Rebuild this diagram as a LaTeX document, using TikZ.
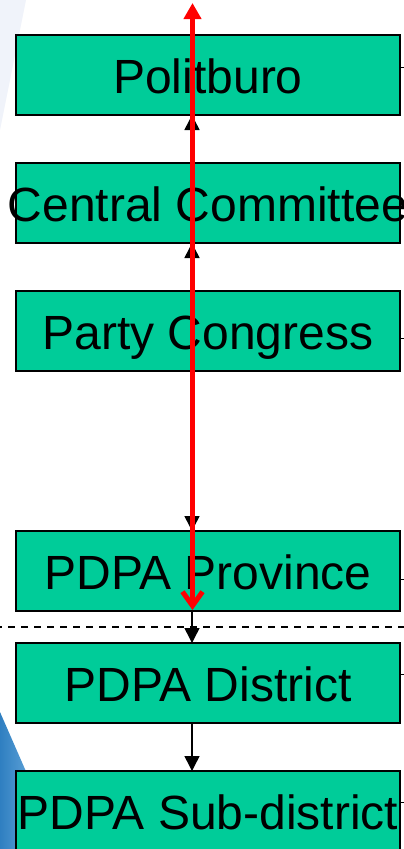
\documentclass[tikz,border=0pt]{standalone}
\usepackage{fontspec}
\setmainfont{Liberation Sans}
\usetikzlibrary{arrows.meta}
\definecolor{boxgreen}{HTML}{00CC99}
\definecolor{bgblue}{HTML}{2F7FC1}
\definecolor{bgblue2}{HTML}{5A9FD6}
\definecolor{paleblue}{HTML}{F0F3FA}
\tikzset{
  box/.style={draw=black, line width=1.5pt, fill=boxgreen, minimum width=384pt,
    minimum height=80pt, inner sep=0pt, outer sep=0pt,
    text height=36pt, text depth=0pt,
    font=\fontsize{48}{50}\selectfont},
  conn/.style={draw=black, line width=1.5pt, -{Triangle[length=15pt,width=15pt]}},
  redarrow/.style={draw=red, line width=5pt,
    {Triangle[length=16pt,width=17pt]}-{Straight Barb[length=14pt,width=20pt]}},
  tick/.style={draw=black, line width=1pt},
  divider/.style={draw=black, line width=1.3pt, dash pattern=on 7pt off 6pt, dash phase=5pt}
}
\begin{document}
\begin{tikzpicture}[x=1pt,y=-1pt]
\useasboundingbox (0,0) rectangle (404,849);
% background slide artifacts
\fill[paleblue] (0,0) -- (26,0) -- (0,130) -- cycle;
\shade[left color=bgblue, right color=bgblue2] (0,712) -- (28,776) -- (28,849) -- (0,849) -- cycle;
% boxes
\node[box] (pb) at (208,75) {\makebox[0pt]{Politburo}};
\node[box] (cc) at (208,203) {\makebox[0pt]{Central Committee}};
\node[box] (pc) at (208,331) {\makebox[0pt]{Party Congress}};
\node[box] (pr) at (208,571) {\makebox[0pt]{PDPA Province}};
\node[box] (di) at (208,683) {\makebox[0pt]{PDPA District}};
\node[box] (sd) at (208,811) {\makebox[0pt]{PDPA Sub-district}};
% axis for connectors
\coordinate (ax) at (192,0);
% ticks on the right
\coordinate (t1) at (405,67);
\coordinate (t2) at (405,338);
\coordinate (t3) at (405,579);
\coordinate (t4) at (405,674);
\coordinate (t5) at (405,802);
\draw[tick] (pb.east |- t1) -- (t1);
\draw[tick] (pc.east |- t2) -- (t2);
\draw[tick] (pr.east |- t3) -- (t3);
\draw[tick] (di.east |- t4) -- (t4);
\draw[tick] (sd.east |- t5) -- (t5);
% connectors
\draw[conn] (cc.north -| ax) -- (pb.south -| ax);
\draw[conn] (pc.north -| ax) -- (cc.south -| ax);
\draw[conn] (pc.south -| ax) -- (pr.north -| ax);
\draw[conn] (pr.south -| ax) -- (di.north -| ax);
\draw[conn] (di.south -| ax) -- (sd.north -| ax);
% dashed divider
\coordinate (dl) at (0,627);
\coordinate (dr) at (404,627);
\draw[divider] (dl) -- (dr);
% red double arrow
\coordinate (rt) at (192.5,3);
\coordinate (rb) at (192.5,610);
\draw[redarrow] (rt) -- (rb);
\end{tikzpicture}
\end{document}
